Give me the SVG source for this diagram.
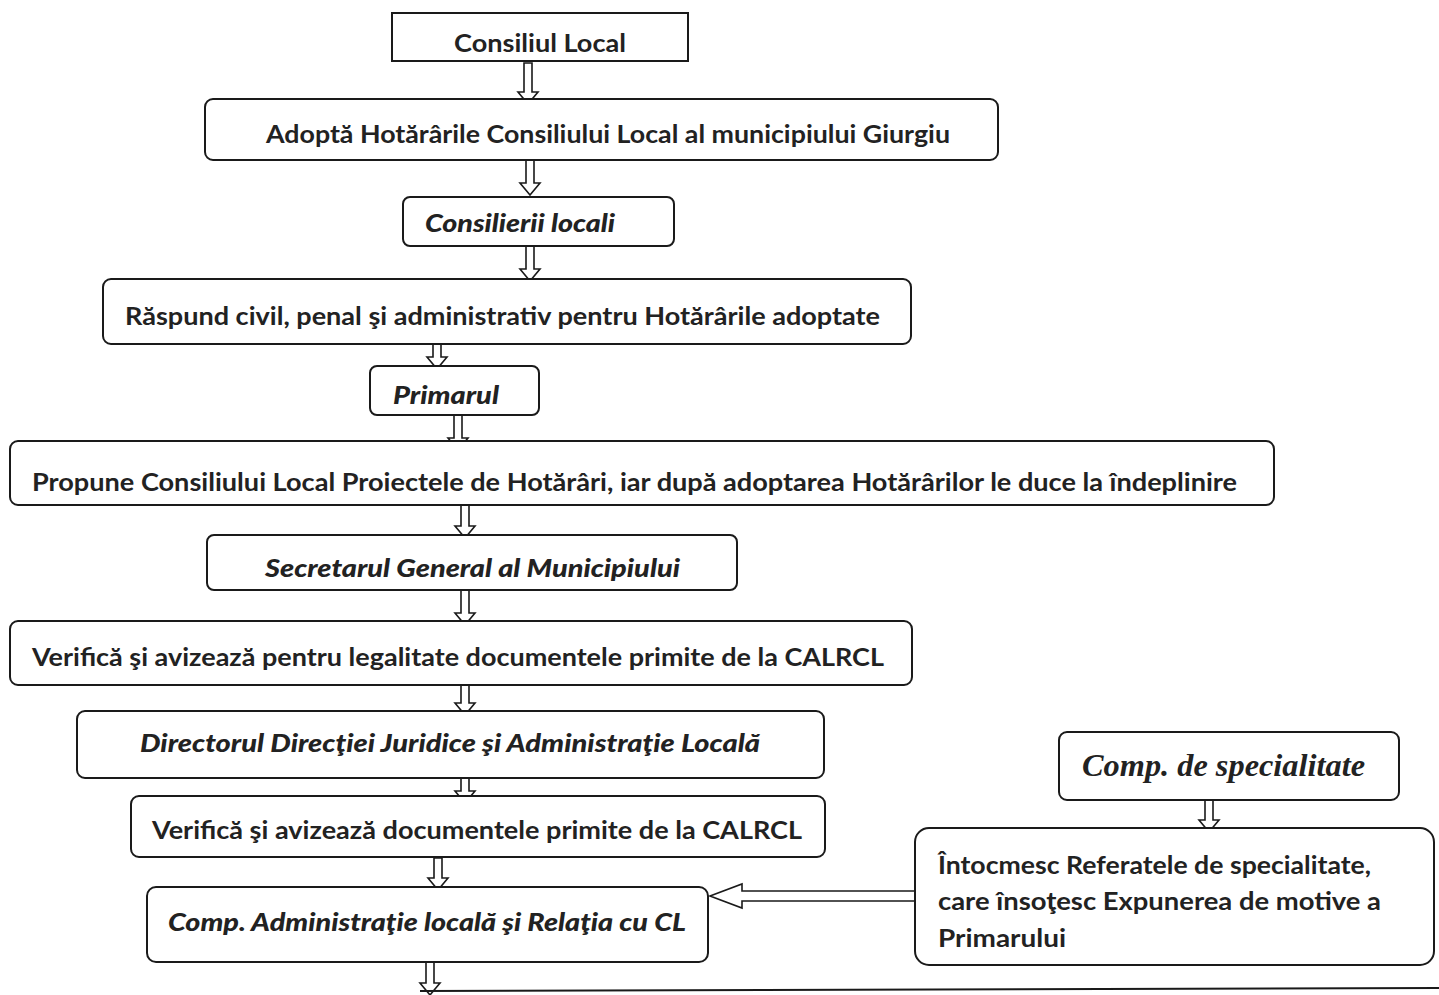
<svg xmlns="http://www.w3.org/2000/svg" width="1439" height="995" viewBox="0 0 1439 995">
<style>
.box{fill:#fff;stroke:#1a1a1a;stroke-width:2}
.t{font-family:Lato,"Open Sans","Liberation Sans",sans-serif;font-weight:bold;font-size:24px;fill:#222}
.ti{font-family:Lato,"Open Sans","Liberation Sans",sans-serif;font-weight:900;font-style:italic;font-size:24px;fill:#222}
.ts{font-family:"Liberation Serif",serif;font-weight:bold;font-style:italic;font-size:31px;fill:#222}
.ar{fill:#fff;stroke:#1a1a1a;stroke-width:1.6;stroke-linejoin:miter}
.ln{fill:none;stroke:#1a1a1a;stroke-width:2}
</style>
<rect width="1439" height="995" fill="#fff"/>
<g id="connectors">
<path class="ar" d="M524,63 L532,63 L532,92 L538,92 L528,104 L518,92 L524,92 Z"/>
<path class="ar" d="M526,160 L534,160 L534,183 L540,183 L530,195 L520,183 L526,183 Z"/>
<path class="ar" d="M526,246 L534,246 L534,269 L540,269 L530,281 L520,269 L526,269 Z"/>
<path class="ar" d="M433,334 L441,334 L441,357 L447,357 L437,369 L427,357 L433,357 Z"/>
<path class="ar" d="M454,415 L462,415 L462,438 L468,438 L458,450 L448,438 L454,438 Z"/>
<path class="ar" d="M461,503 L469,503 L469,526 L475,526 L465,538 L455,526 L461,526 Z"/>
<path class="ar" d="M461,590 L469,590 L469,613 L475,613 L465,625 L455,613 L461,613 Z"/>
<path class="ar" d="M461,681 L469,681 L469,703 L475,703 L465,715 L455,703 L461,703 Z"/>
<path class="ar" d="M461,778 L469,778 L469,791 L475,791 L465,803 L455,791 L461,791 Z"/>
<path class="ar" d="M434,858 L442,858 L442,878 L448,878 L438,890 L428,878 L434,878 Z"/>
<path class="ar" d="M426,962 L434,962 L434,983 L440,983 L430,995 L420,983 L426,983 Z"/>
<path class="ar" d="M1205,800 L1213,800 L1213,820 L1219,820 L1209,832 L1199,820 L1205,820 Z"/>
<path class="ar" d="M915,891 L915,901 L742,901 L742,908 L710,896 L742,884 L742,891 Z"/>
<path class="ln" d="M420,991 L1439,988"/>
</g>
<g id="n1"><rect class="box" x="392" y="13" width="296" height="48"/><text class="t" x="540" y="52" text-anchor="middle" textLength="172" lengthAdjust="spacingAndGlyphs">Consiliul Local</text></g>
<g id="n2"><rect class="box" x="205" y="99" width="793" height="61" rx="8"/><text class="t" x="266" y="143" textLength="684" lengthAdjust="spacingAndGlyphs">Adoptă Hotărârile Consiliului Local al municipiului Giurgiu</text></g>
<g id="n3"><rect class="box" x="403" y="197" width="271" height="49" rx="7"/><text class="ti" x="425" y="232" textLength="190" lengthAdjust="spacingAndGlyphs">Consilierii locali</text></g>
<g id="n4"><rect class="box" x="103" y="279" width="808" height="65" rx="8"/><text class="t" x="125" y="325" textLength="755" lengthAdjust="spacingAndGlyphs">Răspund civil, penal şi administrativ pentru Hotărârile adoptate</text></g>
<g id="n5"><rect class="box" x="370" y="366" width="169" height="49" rx="7"/><text class="ti" x="393" y="404" textLength="106" lengthAdjust="spacingAndGlyphs">Primarul</text></g>
<g id="n6"><rect class="box" x="10" y="441" width="1264" height="64" rx="8"/><text class="t" x="32" y="491" textLength="1205" lengthAdjust="spacingAndGlyphs">Propune Consiliului Local Proiectele de Hotărâri, iar după adoptarea Hotărârilor le duce la îndeplinire</text></g>
<g id="n7"><rect class="box" x="207" y="535" width="530" height="55" rx="7"/><text class="ti" x="265" y="577" textLength="415" lengthAdjust="spacingAndGlyphs">Secretarul General al Municipiului</text></g>
<g id="n8"><rect class="box" x="10" y="621" width="902" height="64" rx="8"/><text class="t" x="32" y="666" textLength="852" lengthAdjust="spacingAndGlyphs">Verifică şi avizează pentru legalitate documentele primite de la  CALRCL</text></g>
<g id="n9"><rect class="box" x="77" y="711" width="747" height="67" rx="8"/><text class="ti" x="140" y="752" textLength="620" lengthAdjust="spacingAndGlyphs">Directorul Direcţiei Juridice  şi Administraţie Locală</text></g>
<g id="n10"><rect class="box" x="131" y="796" width="694" height="61" rx="8"/><text class="t" x="152" y="839" textLength="650" lengthAdjust="spacingAndGlyphs">Verifică şi avizează documentele primite de la  CALRCL</text></g>
<g id="n11"><rect class="box" x="147" y="887" width="561" height="75" rx="9"/><text class="ti" x="168" y="931" textLength="518" lengthAdjust="spacingAndGlyphs">Comp. Administraţie locală şi Relaţia cu CL</text></g>
<g id="n12"><rect class="box" x="1059" y="732" width="340" height="68" rx="8"/><text class="ts" x="1082" y="776" textLength="283" lengthAdjust="spacingAndGlyphs">Comp. de specialitate</text></g>
<g id="n13"><rect class="box" x="915" y="828" width="519" height="137" rx="14"/>
<text class="t" x="938" y="874" textLength="433" lengthAdjust="spacingAndGlyphs">Întocmesc Referatele de specialitate,</text>
<text class="t" x="938" y="910" textLength="443" lengthAdjust="spacingAndGlyphs">care însoţesc Expunerea de motive a</text>
<text class="t" x="938" y="947" textLength="128" lengthAdjust="spacingAndGlyphs">Primarului</text></g>
</svg>
